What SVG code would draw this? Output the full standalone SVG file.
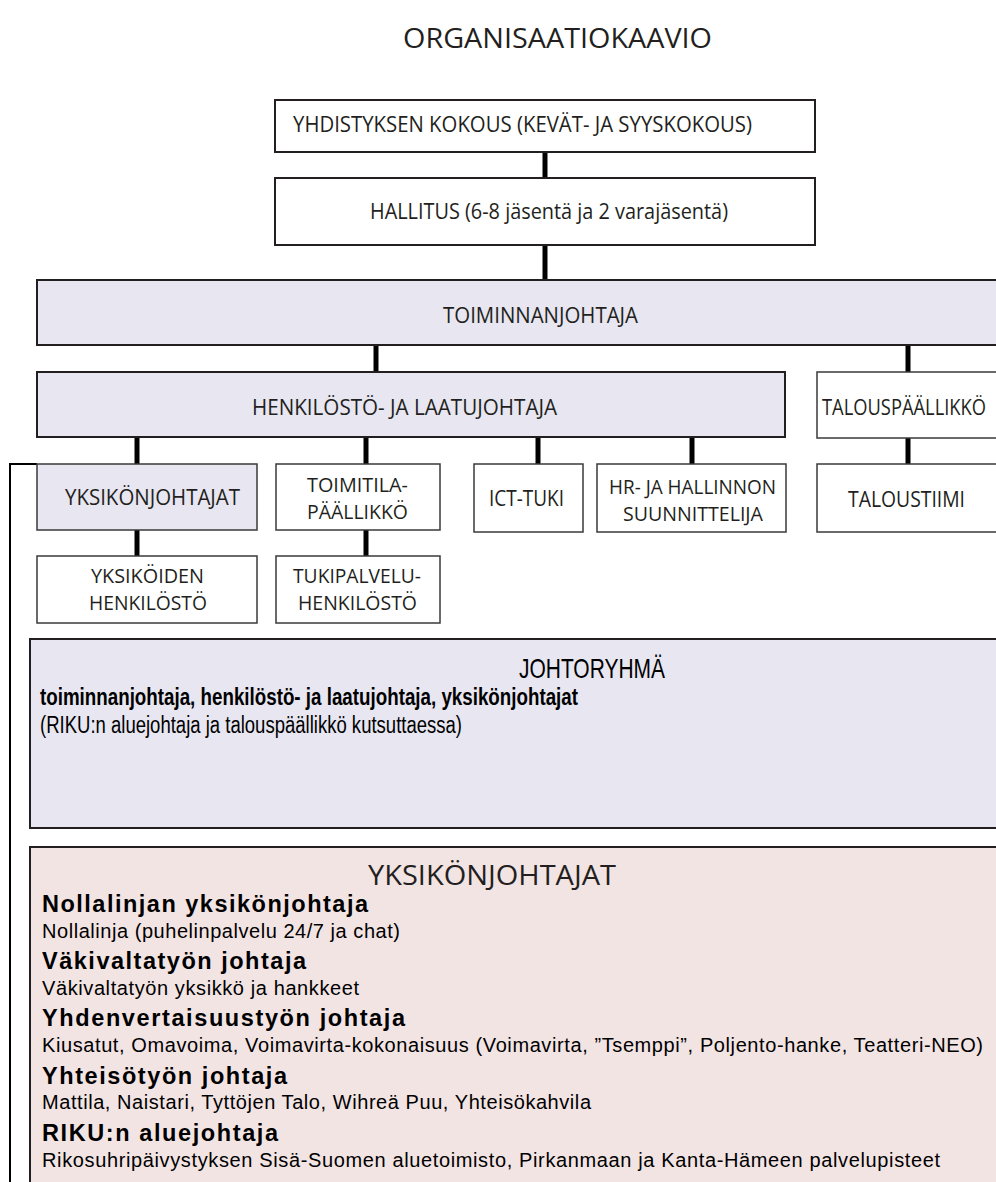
<svg xmlns="http://www.w3.org/2000/svg" width="996" height="1182" viewBox="0 0 996 1182">
<style>
.box{fill:#ffffff;stroke:#231f20;stroke-width:2}
.sbox{fill:#ffffff;stroke:#3a3a3a;stroke-width:1.5}
.conn{stroke:#000;stroke-width:5;fill:none}
.thin{stroke:#000;stroke-width:2;fill:none}
.t{font-family:"Open Sans","Noto Sans",sans-serif;font-size:21px;fill:#231f20}
.t2{font-size:19.5px}
.n{font-family:"Liberation Sans Narrow","Liberation Sans",Arial,sans-serif;fill:#000}
.a{font-family:"Liberation Sans",Arial,sans-serif;fill:#000}
.b{font-weight:bold}
.h{font-size:23.5px}
.r{font-size:20px}
</style>
<rect width="996" height="1182" fill="#ffffff"/>
<text id="title" class="t" x="403" y="48" style="font-size:27px" textLength="309" lengthAdjust="spacingAndGlyphs">ORGANISAATIOKAAVIO</text>

<g id="connectors">
<line class="conn" x1="545" y1="152" x2="545" y2="178"/>
<line class="conn" x1="545" y1="245" x2="545" y2="280"/>
<line class="conn" x1="376" y1="345" x2="376" y2="372"/>
<line class="conn" x1="908" y1="345" x2="908" y2="372"/>
<line class="conn" x1="137" y1="437" x2="137" y2="464"/>
<line class="conn" x1="366" y1="437" x2="366" y2="464"/>
<line class="conn" x1="538" y1="437" x2="538" y2="464"/>
<line class="conn" x1="692" y1="437" x2="692" y2="464"/>
<line class="conn" x1="908" y1="438" x2="908" y2="464"/>
<line class="conn" x1="137" y1="530" x2="137" y2="556"/>
<line class="conn" x1="366" y1="530" x2="366" y2="556"/>
<polyline class="thin" points="37,464 10,464 10,1182"/>
</g>

<g id="n-yhdistys">
<rect class="box" x="275" y="100" width="540" height="52"/>
<text class="t" x="293" y="132" textLength="459" lengthAdjust="spacingAndGlyphs">YHDISTYKSEN KOKOUS (KEVÄT- JA SYYSKOKOUS)</text>
</g>
<g id="n-hallitus">
<rect class="box" x="275" y="178" width="540" height="67"/>
<text class="t" x="370" y="219" textLength="358" lengthAdjust="spacingAndGlyphs">HALLITUS (6-8 jäsentä ja 2 varajäsentä)</text>
</g>
<g id="n-toiminnanjohtaja">
<rect class="box" x="37" y="280" width="970" height="65" style="fill:#e7e6f1"/>
<text class="t" x="443" y="323" textLength="195" lengthAdjust="spacingAndGlyphs">TOIMINNANJOHTAJA</text>
</g>
<g id="n-henkilosto">
<rect class="box" x="37" y="372" width="748" height="65" style="fill:#e7e6f1"/>
<text class="t" x="252" y="415" textLength="305" lengthAdjust="spacingAndGlyphs">HENKILÖSTÖ- JA LAATUJOHTAJA</text>
</g>
<g id="n-talouspaallikko">
<rect class="sbox" x="817" y="372" width="190" height="66"/>
<text class="t" x="822" y="415" textLength="164" lengthAdjust="spacingAndGlyphs">TALOUSPÄÄLLIKKÖ</text>
</g>
<g id="n-yksikonjohtajat">
<rect class="sbox" x="37" y="464" width="220" height="66" style="fill:#e7e6f1"/>
<text class="t" x="65" y="505" textLength="175" lengthAdjust="spacingAndGlyphs">YKSIKÖNJOHTAJAT</text>
</g>
<g id="n-toimitila">
<rect class="sbox" x="276" y="464" width="164" height="66"/>
<text class="t t2" x="307" y="492" textLength="101" lengthAdjust="spacingAndGlyphs">TOIMITILA-</text>
<text class="t t2" x="307" y="519" textLength="101" lengthAdjust="spacingAndGlyphs">PÄÄLLIKKÖ</text>
</g>
<g id="n-ict">
<rect class="sbox" x="474" y="464" width="109" height="68"/>
<text class="t" x="489" y="506" textLength="75" lengthAdjust="spacingAndGlyphs">ICT-TUKI</text>
</g>
<g id="n-hr">
<rect class="sbox" x="597" y="464" width="189" height="68"/>
<text class="t t2" x="609" y="494" textLength="167" lengthAdjust="spacingAndGlyphs">HR- JA HALLINNON</text>
<text class="t t2" x="623" y="521" textLength="140" lengthAdjust="spacingAndGlyphs">SUUNNITTELIJA</text>
</g>
<g id="n-taloustiimi">
<rect class="sbox" x="817" y="464" width="190" height="68"/>
<text class="t" x="848" y="507" textLength="117" lengthAdjust="spacingAndGlyphs">TALOUSTIIMI</text>
</g>
<g id="n-yksikoiden">
<rect class="sbox" x="37" y="556" width="220" height="67"/>
<text class="t t2" x="91" y="583" textLength="113" lengthAdjust="spacingAndGlyphs">YKSIKÖIDEN</text>
<text class="t t2" x="89" y="610" textLength="118" lengthAdjust="spacingAndGlyphs">HENKILÖSTÖ</text>
</g>
<g id="n-tukipalvelu">
<rect class="sbox" x="276" y="556" width="164" height="67"/>
<text class="t t2" x="293" y="583" textLength="128" lengthAdjust="spacingAndGlyphs">TUKIPALVELU-</text>
<text class="t t2" x="298" y="610" textLength="119" lengthAdjust="spacingAndGlyphs">HENKILÖSTÖ</text>
</g>

<g id="n-johtoryhma">
<rect class="box" x="30" y="639" width="980" height="189" style="fill:#e7e6f1"/>
<text class="n" x="519" y="678" style="font-size:28px" textLength="146" lengthAdjust="spacingAndGlyphs">JOHTORYHMÄ</text>
<text class="n b" x="40" y="705" style="font-size:23px" textLength="538" lengthAdjust="spacingAndGlyphs">toiminnanjohtaja, henkilöstö- ja laatujohtaja, yksikönjohtajat</text>
<text class="n" x="40" y="733" style="font-size:23px" textLength="422" lengthAdjust="spacingAndGlyphs">(RIKU:n aluejohtaja ja talouspäällikkö kutsuttaessa)</text>
</g>

<g id="n-yksikonjohtajat-list">
<rect class="box" x="30" y="847" width="980" height="345" style="fill:#f3e4e4"/>
<text class="t" x="368" y="885" style="font-size:27px" textLength="248" lengthAdjust="spacingAndGlyphs">YKSIKÖNJOHTAJAT</text>
<text class="a b h" x="42" y="912" textLength="326" lengthAdjust="spacing">Nollalinjan yksikönjohtaja</text>
<text class="a r" x="42" y="938" textLength="358" lengthAdjust="spacing">Nollalinja (puhelinpalvelu 24/7 ja chat)</text>
<text class="a b h" x="42" y="969" textLength="264" lengthAdjust="spacing">Väkivaltatyön johtaja</text>
<text class="a r" x="42" y="995" textLength="317" lengthAdjust="spacing">Väkivaltatyön yksikkö ja hankkeet</text>
<text class="a b h" x="42" y="1026" textLength="363" lengthAdjust="spacing">Yhdenvertaisuustyön johtaja</text>
<text class="a r" x="42" y="1052" textLength="941" lengthAdjust="spacing">Kiusatut, Omavoima, Voimavirta-kokonaisuus (Voimavirta, ”Tsemppi”, Poljento-hanke, Teatteri-NEO)</text>
<text class="a b h" x="42" y="1084" textLength="245" lengthAdjust="spacing">Yhteisötyön johtaja</text>
<text class="a r" x="42" y="1109" textLength="549" lengthAdjust="spacing">Mattila, Naistari, Tyttöjen Talo, Wihreä Puu, Yhteisökahvila</text>
<text class="a b h" x="42" y="1141" textLength="236" lengthAdjust="spacing">RIKU:n aluejohtaja</text>
<text class="a r" x="42" y="1167" textLength="898" lengthAdjust="spacing">Rikosuhripäivystyksen Sisä-Suomen aluetoimisto, Pirkanmaan ja Kanta-Hämeen palvelupisteet</text>
</g>
</svg>
